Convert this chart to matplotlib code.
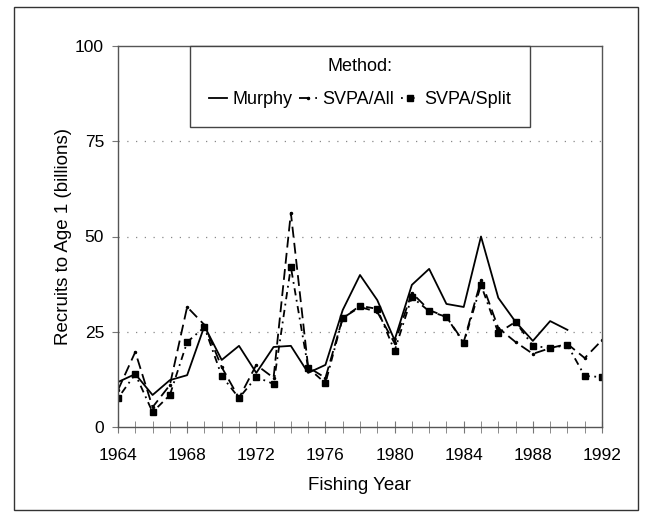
import numpy as np
import matplotlib.pyplot as plt
from matplotlib.patches import Rectangle
from matplotlib.ticker import MultipleLocator

plt.rcParams['font.family'] = ['Liberation Sans', 'DejaVu Sans']

# values (billions of recruits)
years = np.arange(1964, 1993)
murphy = [11.8, 13.9, 8.4, 12.3, 13.6, 26.5, 17.6, 21.3, 14.2, 21.0,
          21.3, 14.2, 16.3, 30.7, 39.9, 33.3, 22.8, 37.3, 41.5, 32.3,
          31.5, 50.0, 33.9, 27.6, 22.6, 27.8, 25.5]
svpa_all = [9.7, 19.7, 5.2, 11.0, 31.5, 26.8, 15.7, 7.6, 16.3, 12.9,
            56.2, 15.7, 12.9, 28.6, 31.5, 30.2, 22.0, 35.2, 30.7, 28.9,
            22.3, 38.5, 26.0, 22.3, 19.2, 20.7, 21.8, 18.1, 22.8]
svpa_split = [7.6, 13.9, 3.9, 8.4, 22.3, 26.2, 13.4, 7.6, 13.1, 11.3,
              42.0, 15.5, 11.5, 28.6, 31.8, 31.0, 20.0, 34.1, 30.4, 28.9,
              22.0, 37.3, 24.7, 27.6, 21.3, 20.7, 21.5, 13.4, 13.1]

fig = plt.figure(figsize=(6.57, 5.17), dpi=100)
fig.patches.append(Rectangle((14 / 657, 1 - 510 / 517), 624 / 657, 503 / 517,
                             transform=fig.transFigure, fill=False,
                             edgecolor='#333333', linewidth=1.0))
ax = fig.add_axes([118 / 657, 1 - 427 / 517, 484 / 657, 381 / 517])

ax.plot(years[:len(murphy)], murphy, color='black', linewidth=1.3,
        label='Murphy')
ax.plot(years, svpa_all, color='black', linewidth=1.3, linestyle=(0, (6, 3)),
        marker='.', markersize=3, label='SVPA/All')
ax.plot(years, svpa_split, color='black', linewidth=1.3,
        linestyle=(0, (1, 2.5, 4, 2.5)), marker='s', markersize=5,
        label='SVPA/Split')

ax.set_xlim(1964, 1992)
ax.set_ylim(0, 100)
ax.xaxis.set_major_locator(MultipleLocator(4))
ax.xaxis.set_minor_locator(MultipleLocator(1))
ax.yaxis.set_major_locator(MultipleLocator(25))
ax.tick_params(axis='x', which='both', direction='inout', color='#777777',
               labelsize=12.5)
ax.tick_params(axis='x', which='major', length=8, pad=11)
ax.tick_params(axis='x', which='minor', length=8)
ax.tick_params(axis='y', direction='out', length=4, color='#777777',
               labelsize=12.5, pad=6)

for y in [25, 50, 75]:
    ax.axhline(y, color='#888888', linestyle=(0, (1, 6)), linewidth=0.9,
               zorder=0)

for side in ['left', 'right', 'top', 'bottom']:
    ax.spines[side].set_color('#555555')
    ax.spines[side].set_linewidth(1.0)

ax.set_xlabel('Fishing Year', fontsize=13.5, labelpad=10)
ax.set_ylabel('Recruits to Age 1 (billions)', fontsize=13.5, labelpad=2)

leg = ax.legend(loc='upper left', bbox_to_anchor=(72 / 484, 0, 340 / 484, 1.0),
                mode='expand', borderaxespad=0, ncol=3,
                title='Method:', fontsize=13, title_fontsize=13,
                frameon=True, fancybox=False, edgecolor='#444444',
                handlelength=1.0, handletextpad=0.3, columnspacing=0.6,
                borderpad=1.05, framealpha=1)
leg.get_frame().set_linewidth(1.0)
leg.get_title().set_position((0, 7))

fig.savefig('out.png', dpi=100)
